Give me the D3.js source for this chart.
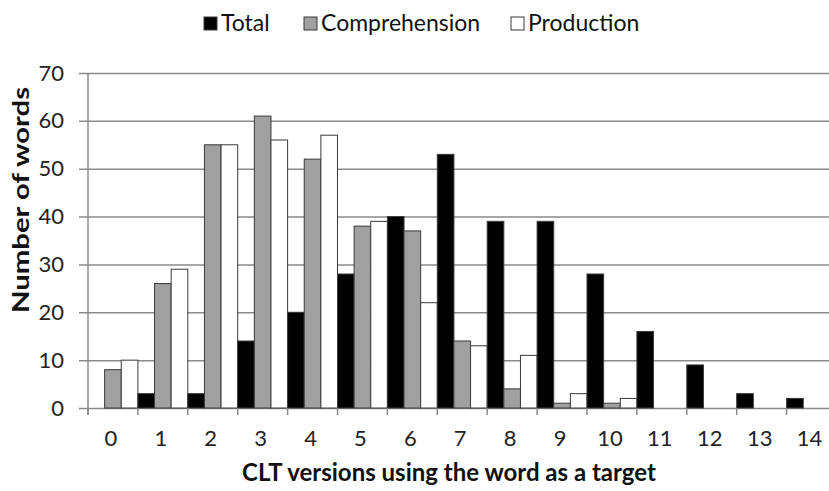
<!DOCTYPE html>
<html>
<head>
<meta charset="utf-8">
<title>CLT versions</title>
<script src="https://d3js.org/d3.v7.min.js"></script>
<style>
  body { margin: 0; background: #ffffff; }
  svg { display: block; font-family: Lato, 'Open Sans', sans-serif; }
</style>
</head>
<body>
<script>
'use strict'

// data
const categories = ['0', '1', '2', '3', '4', '5', '6', '7', '8', '9', '10', '11', '12', '13', '14']
const seriesNames = ['Total', 'Comprehension', 'Production']
const total = [0, 3, 3, 14, 20, 28, 40, 53, 39, 39, 28, 16, 9, 3, 2]
const comprehension = [8, 26, 55, 61, 52, 38, 37, 14, 4, 1, 1, 0, 0, 0, 0]
const production = [10, 29, 55, 56, 57, 39, 22, 13, 11, 3, 2, 0, 0, 0, 0]
const yTicks = [0, 10, 20, 30, 40, 50, 60, 70]

const W = 829, H = 491
const colours = { Total: '#000000', Comprehension: '#a0a0a0', Production: '#ffffff' }

const svg = d3.select('body').append('svg')
  .attr('width', W)
  .attr('height', H)

svg.append('rect').attr('width', W).attr('height', H).attr('fill', '#fff')

// plot runs past the right edge, as in the (cropped) original
const plotLeft = 88, plotTop = 73, plotBottom = 408
const bandW = 49.9

const x = d3.scaleBand()
  .domain(categories)
  .range([plotLeft, plotLeft + bandW * categories.length])
  .padding(0)

const xInner = d3.scaleBand()
  .domain(seriesNames)
  .range([0, x.bandwidth()])
  .padding(0)

const y = d3.scaleLinear()
  .domain([0, 70])
  .range([plotBottom, plotTop])

// gridlines + y ticks
const yAxis = d3.axisLeft(y)
  .tickValues(yTicks)
  .tickSize(-(W - plotLeft + 10))
  .tickPadding(24)

const gy = svg.append('g')
  .attr('transform', 'translate(' + plotLeft + ',0)')
  .call(yAxis)
gy.select('.domain').remove()
gy.selectAll('.tick line')
  .attr('x1', -9)
  .attr('stroke', '#8a8a8a')
  .attr('stroke-width', 1.5)
gy.selectAll('.tick text')
  .attr('fill', '#222')
  .style('font-size', '22px')
  .style('font-family', 'Lato, sans-serif')

// y axis line
svg.append('line')
  .attr('x1', plotLeft).attr('x2', plotLeft)
  .attr('y1', plotTop).attr('y2', plotBottom + 7)
  .attr('stroke', '#8a8a8a')
  .attr('stroke-width', 1.5)

// bars
const rows = categories.map((c, i) => ({
  cat: c,
  values: [
    { name: 'Total', value: total[i] },
    { name: 'Comprehension', value: comprehension[i] },
    { name: 'Production', value: production[i] }
  ]
}))

const groups = svg.append('g').selectAll('g')
  .data(rows)
  .join('g')
  .attr('transform', d => 'translate(' + x(d.cat) + ',0)')

groups.selectAll('rect')
  .data(d => d.values.filter(v => v.value > 0))
  .join('rect')
  .attr('x', d => xInner(d.name))
  .attr('y', d => y(d.value))
  .attr('width', xInner.bandwidth())
  .attr('height', d => y(0) - y(d.value))
  .attr('fill', d => colours[d.name])
  .attr('stroke', '#3a3a3a')
  .attr('stroke-width', 1)

// x axis: ticks at band edges
const edges = categories.map(c => x(c))
svg.append('g').selectAll('line')
  .data(edges)
  .join('line')
  .attr('x1', d => d).attr('x2', d => d)
  .attr('y1', plotBottom).attr('y2', plotBottom + 7)
  .attr('stroke', '#8a8a8a')
  .attr('stroke-width', 1.5)

svg.append('g').selectAll('text')
  .data(categories)
  .join('text')
  .attr('x', d => x(d) + x.bandwidth() / 2 - 2)
  .attr('y', 446)
  .attr('text-anchor', 'middle')
  .attr('fill', '#222')
  .style('font-size', '22px')
  .text(d => d)

// axis titles
svg.append('text')
  .attr('x', 449)
  .attr('y', 481)
  .attr('text-anchor', 'middle')
  .attr('fill', '#111')
  .style('font-size', '24px')
  .style('font-weight', 'bold')
  .text('CLT versions using the word as a target')

svg.append('text')
  .attr('transform', 'translate(29,200) rotate(-90)')
  .attr('text-anchor', 'middle')
  .attr('fill', '#111')
  .attr('textLength', 226)
  .attr('lengthAdjust', 'spacingAndGlyphs')
  .style('font-size', '22px')
  .style('font-weight', 'bold')
  .text('Number of words')

// legend
const legendX = [204, 304, 511]
const legend = svg.append('g').selectAll('g')
  .data(seriesNames)
  .join('g')
  .attr('transform', (d, i) => 'translate(' + legendX[i] + ',17)')

legend.append('rect')
  .attr('width', 13).attr('height', 13)
  .attr('fill', d => colours[d])
  .attr('stroke', '#3a3a3a')
  .attr('stroke-width', 1)

legend.append('text')
  .attr('x', 17)
  .attr('y', 14)
  .attr('fill', '#111')
  .style('font-size', '23px')
  .text(d => d)
</script>
</body>
</html>
